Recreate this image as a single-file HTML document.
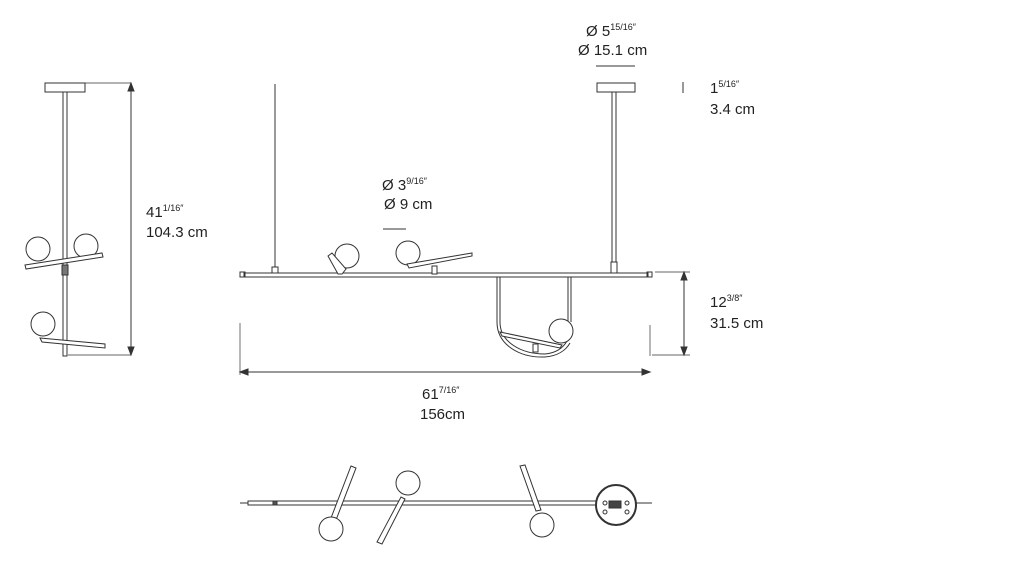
<!DOCTYPE html>
<html><head><style>
html,body{margin:0;padding:0;background:#fff;width:1024px;height:569px;overflow:hidden}
svg{display:block}
text{font-family:"Liberation Sans",sans-serif;fill:#222;stroke:none;font-size:15px}
.s{font-size:9px}
</style></head><body>
<svg width="1024" height="569" viewBox="0 0 1024 569" fill="none" stroke="#333" stroke-width="1">
<!-- LEFT VIEW -->
<rect x="45" y="83" width="40" height="9" fill="#fff"/>
<line x1="85" y1="83" x2="131" y2="83" stroke-width="0.7"/>
<rect x="63" y="92" width="4" height="264" fill="#fff"/>
<line x1="68" y1="355" x2="131" y2="355" stroke-width="0.7"/>
<line x1="131" y1="85" x2="131" y2="353"/>
<path d="M131 83 l-3 8 h6z M131 355 l-3 -8 h6z" fill="#333"/>
<circle cx="38" cy="249" r="12" fill="#fff"/>
<circle cx="86" cy="246" r="12" fill="#fff"/>
<path d="M25 265 L102 253 L103 257 L26 269 Z" fill="#fff"/>
<rect x="62" y="265" width="6" height="10" fill="#777"/>
<circle cx="43" cy="324" r="12" fill="#fff"/>
<path d="M40 338 L105 344 L105 348 L42 342 Z" fill="#fff"/>
<text x="146" y="217">41<tspan class="s" dy="-6">1/16″</tspan></text>
<text x="146" y="237">104.3 cm</text>

<!-- MAIN VIEW -->
<line x1="275" y1="84" x2="275" y2="273"/>
<rect x="272" y="267" width="6" height="8" fill="#fff"/>
<rect x="597" y="83" width="38" height="9" fill="#fff"/>
<rect x="612" y="92" width="4" height="178" fill="#fff"/>
<rect x="611" y="262" width="6" height="12" fill="#fff"/>
<rect x="244" y="273" width="404" height="4" fill="#fff"/>
<path d="M240 272 h5 v5 h-5z M647 272 h5 v5 h-5z" stroke-width="1"/>
<circle cx="347" cy="256" r="12" fill="#fff"/>
<path d="M328 256 l4 -3 l14 16 l-4 5 h-4z" fill="#fff"/>
<circle cx="408" cy="253" r="12" fill="#fff"/>
<path d="M407 264 L472 253 L472 256 L409 268 Z" fill="#fff"/>
<rect x="432" y="266" width="5" height="8" fill="#fff"/>
<path d="M497 277 V322 C497 345 520 358 545 357 C558 356 566 350 570 343" stroke-width="1"/>
<path d="M500 277 V322 C500 342 521 354 545 354 C556 353 563 348 567 341" stroke-width="1"/>
<line x1="568" y1="277" x2="568" y2="322"/>
<line x1="571" y1="277" x2="571" y2="322"/>
<path d="M500 332 L562 345 L560 348 L502 336 Z" fill="#fff"/>
<rect x="533" y="344" width="5" height="8" fill="#fff"/>
<circle cx="561" cy="331" r="12" fill="#fff"/>
<line x1="240" y1="323" x2="240" y2="375" stroke-width="0.7"/>
<line x1="650" y1="325" x2="650" y2="356" stroke-width="0.7"/>
<line x1="242" y1="372" x2="648" y2="372"/>
<path d="M240 372 l8 -3 v6z M650 372 l-8 -3 v6z" fill="#333"/>
<line x1="655" y1="272" x2="690" y2="272" stroke-width="0.7"/>
<line x1="652" y1="355" x2="690" y2="355" stroke-width="0.7"/>
<line x1="684" y1="274" x2="684" y2="353"/>
<path d="M684 272 l-3 8 h6z M684 355 l-3 -8 h6z" fill="#333"/>
<text x="710" y="307">12<tspan class="s" dy="-6">3/8″</tspan></text>
<text x="710" y="328">31.5 cm</text>
<text x="422" y="399">61<tspan class="s" dy="-6">7/16″</tspan></text>
<text x="420" y="419">156cm</text>

<!-- TOP LABELS -->
<text x="586" y="36">Ø 5<tspan class="s" dy="-6">15/16″</tspan></text>
<text x="578" y="55">Ø 15.1 cm</text>
<line x1="596" y1="66" x2="635" y2="66"/>
<line x1="683" y1="82" x2="683" y2="93"/>
<text x="710" y="93">1<tspan class="s" dy="-6">5/16″</tspan></text>
<text x="710" y="114">3.4 cm</text>
<text x="382" y="190">Ø 3<tspan class="s" dy="-6">9/16″</tspan></text>
<text x="384" y="209">Ø 9 cm</text>
<line x1="383" y1="229" x2="406" y2="229"/>

<!-- BOTTOM VIEW -->
<rect x="248" y="501" width="364" height="4" fill="#fff"/>
<line x1="240" y1="503" x2="248" y2="503"/>
<line x1="636" y1="503" x2="652" y2="503"/>
<rect x="273" y="501" width="4" height="4" fill="#555"/>
<path d="M351 466 L356 468 L336 520 L331 518 Z" fill="#fff"/>
<circle cx="331" cy="529" r="12" fill="#fff"/>
<path d="M382 544 L377 542 L401 497 L405 499 Z" fill="#fff"/>
<circle cx="408" cy="483" r="12" fill="#fff"/>
<path d="M520 466 L525 465 L541 510 L536 511 Z" fill="#fff"/>
<circle cx="542" cy="525" r="12" fill="#fff"/>
<circle cx="616" cy="505" r="20" fill="#fff" stroke-width="2"/>
<rect x="609" y="501" width="12" height="7" fill="#444"/>
<circle cx="605" cy="503" r="2"/><circle cx="627" cy="503" r="2"/>
<circle cx="605" cy="512" r="2"/><circle cx="627" cy="512" r="2"/>
</svg>
</body></html>
